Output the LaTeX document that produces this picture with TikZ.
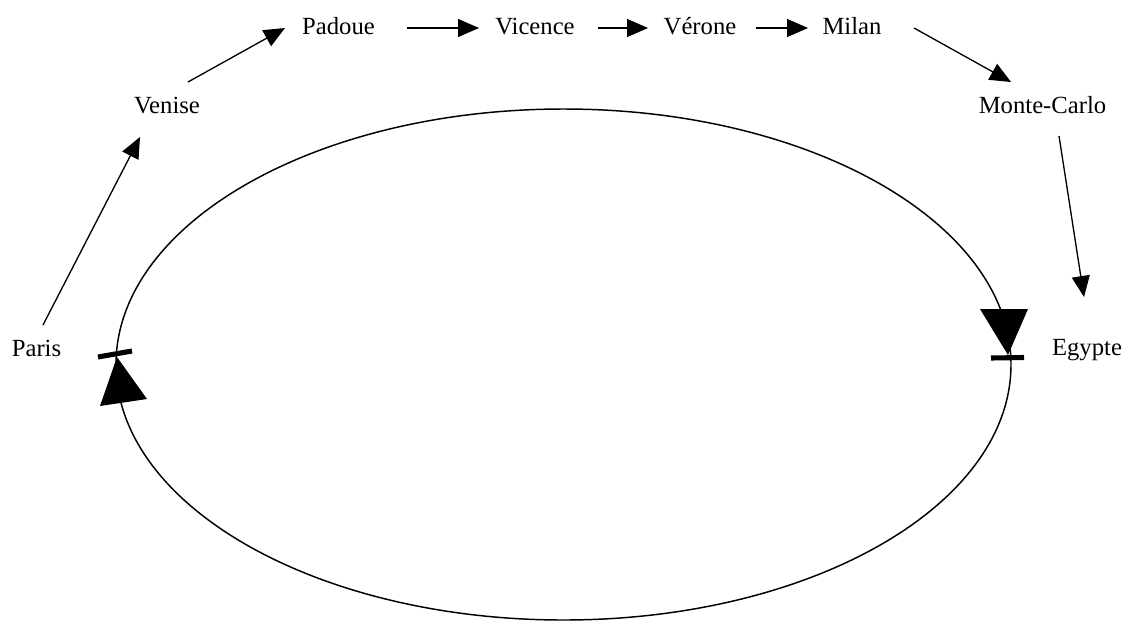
\documentclass[tikz,border=0pt]{standalone}
\usepackage{fontspec}
\setmainfont{Liberation Serif}
\usetikzlibrary{arrows.meta,shapes.geometric}
\begin{document}
\begin{tikzpicture}[x=0.75pt,y=-0.75pt,
  city/.style={font=\fontsize{18.5}{22}\selectfont, inner sep=0pt, anchor=base},
  arr/.style={line width=1pt, -{Triangle[length=15.75pt,width=13.5pt]}},
  diodebar/.style={line width=3.8pt},
  loopline/.style={line width=1.1pt}]
\useasboundingbox (0,0) rectangle (1134,622);
% cycle
\node[draw, ellipse, loopline, minimum width=671.25pt, minimum height=383.25pt, inner sep=0pt] (loop) at (563.5,364.5) {};
% cities
\node[city] (paris) at (36.5,356) {Paris};
\node[city] (venise) at (167,113) {Venise};
\node[city] (padoue) at (338.5,34) {Padoue};
\node[city] (vicence) at (535,34) {Vicence};
\node[city] (verone) at (700,34) {Vérone};
\node[city] (milan) at (852,34) {Milan};
\node[city] (montecarlo) at (1042.5,113) {Monte-Carlo};
\node[city] (egypte) at (1087,355) {Egypte};
% connectors
\draw[arr] ([shift={(6.5,-31)}]paris.base) -- ([shift={(-27,24)}]venise.base);
\draw[arr] ([shift={(21,-31)}]venise.base) -- ([shift={(-53.5,-6)}]padoue.base);
\draw[arr] ([shift={(68.5,-6)}]padoue.base) -- ([shift={(-56,-6)}]vicence.base);
\draw[arr] ([shift={(63,-6)}]vicence.base) -- ([shift={(-52,-6)}]verone.base);
\draw[arr] ([shift={(56,-6)}]verone.base) -- ([shift={(-44,-6)}]milan.base);
\draw[arr] ([shift={(62,-6)}]milan.base) -- ([shift={(-31.5,-31)}]montecarlo.base);
\draw[arr] ([shift={(16.5,23)}]montecarlo.base) -- ([shift={(-3,-58)}]egypte.base);
% diode symbols on the cycle
\fill (117,357) -- (100,406) -- (147,399) -- cycle;
\draw[diodebar] (98,357) -- (132,351);
\fill (980,309) -- (1028,309) -- (1008,355) -- cycle;
\draw[diodebar] (991,358) -- (1024,357.5);
\end{tikzpicture}
\end{document}
